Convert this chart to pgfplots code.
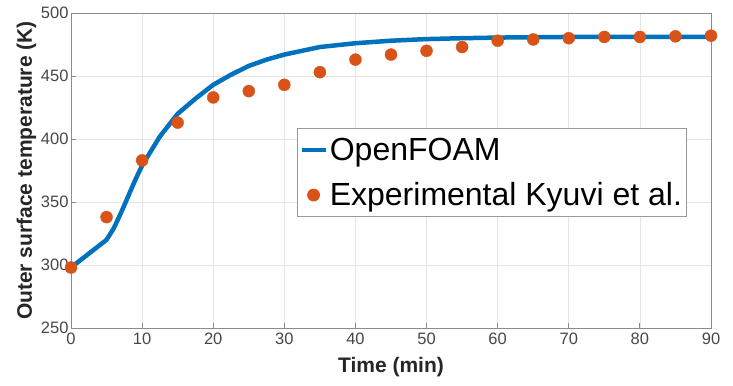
\documentclass[border=0pt]{standalone}
\usepackage{pgfplots}
\pgfplotsset{compat=1.18}
\usepackage{fontspec}
\setmainfont{Liberation Sans}
\definecolor{mblue}{rgb}{0,0.447,0.741}
\definecolor{morange}{rgb}{0.85,0.325,0.098}
\definecolor{tickgray}{rgb}{0.28,0.28,0.28}
\pgfplotsset{
  shortline/.style={legend image code/.code={\draw[##1] (0bp,0bp) -- (24bp,0bp);}},
  onedot/.style={legend image code/.code={\draw[##1] plot coordinates {(12bp,0bp)};}},
}
\begin{document}
\begin{tikzpicture}
\begin{axis}[
  scale only axis,
  width=640bp, height=315bp,
  xmin=0, xmax=90, ymin=250, ymax=500,
  xtick={0,10,...,90}, ytick={250,300,...,500},
  grid=major,
  major grid style={draw=black!10, line width=0.6bp},
  axis line style={draw=black!45, line width=0.8bp},
  tick style={draw=black!45, line width=0.8bp},
  major tick length=5bp,
  tick align=inside,
  xtick pos=bottom, ytick pos=left,
  /pgf/number format/assume math mode=true,
  tick label style={font=\fontsize{16.5bp}{18bp}\selectfont, text=tickgray},
  xticklabel style={yshift=-1bp},
  yticklabel style={xshift=1bp},
  xlabel={\textbf{Time (min)}},
  ylabel={\textbf{Outer surface temperature (K)}},
  label style={font=\fontsize{21bp}{24bp}\selectfont, text=black!85},
  xlabel style={yshift=-6bp},
  ylabel style={yshift=-2bp},
  legend style={at={(0.353,0.635)}, anchor=north west,
    font=\fontsize{32bp}{36bp}\selectfont,
    draw=black!40, line width=0.8bp, fill=white,
    inner xsep=2bp, inner ysep=7.5bp, row sep=17bp},
  legend cell align=left,
]
\addplot[color=mblue, line width=4.5bp, line join=round, shortline] coordinates {
 (0,298) (2.5,309) (5,320) (6,329) (7,341) (8,354) (9,367) (10,379)
 (12.5,402) (15,420) (17.5,432) (20,443) (22.5,451) (25,458) (27.5,463)
 (30,467) (32.5,470) (35,473) (37.5,474.5) (40,476) (45,478) (50,479.3)
 (55,480) (60,480.5) (70,481) (80,481) (90,481)
};
\addlegendentry{OpenFOAM}
\addplot[only marks, mark=*, mark size=6bp, color=morange, mark options={draw=morange, fill=morange}, onedot] coordinates {
 (0,298) (5,338) (10,383) (15,413) (20,433) (25,438) (30,443) (35,453)
 (40,463) (45,467) (50,470) (55,473) (60,478) (65,479) (70,480) (75,481)
 (80,481) (85,481.5) (90,482)
};
\addlegendentry{Experimental Kyuvi et al.}
\end{axis}
\pgfresetboundingbox
\path ([shift={(-71bp,-58bp)}]current axis.south west) rectangle ([shift={(22bp,13bp)}]current axis.north east);
\end{tikzpicture}
\end{document}
